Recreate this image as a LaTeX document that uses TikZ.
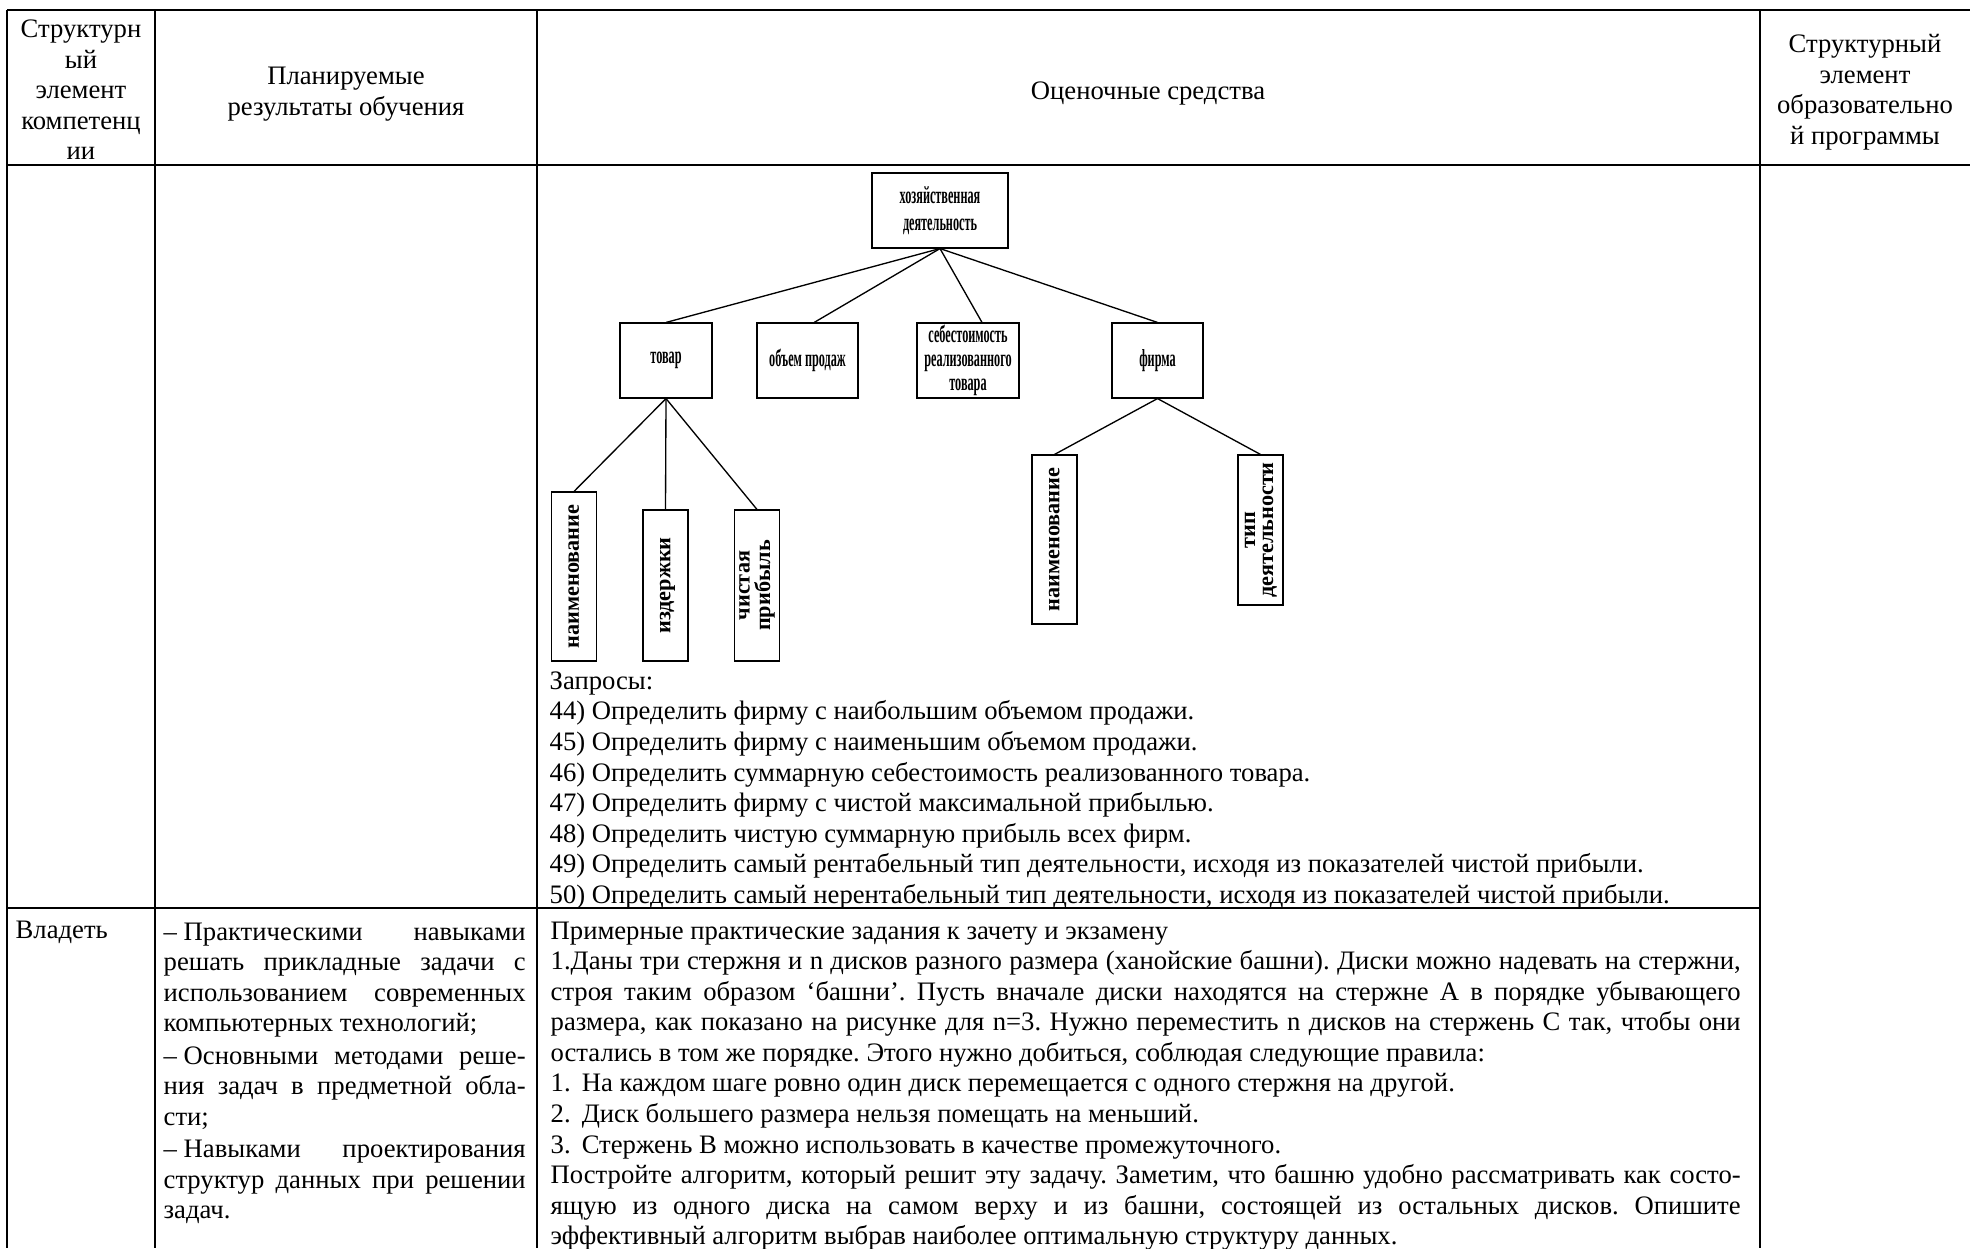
\documentclass[tikz,border=0pt]{standalone}
\usepackage{fontspec}
\setmainfont{Liberation Serif}
\newfontfamily\treefont[FakeStretch=0.5]{Liberation Serif}
\usepackage{graphicx}
\usetikzlibrary{positioning}

\newlength\pxu
\setlength\pxu{0.45pt}
\newcommand\vtext[2]{\rotatebox{90}{\renewcommand\arraystretch{#1}\begin{tabular}{@{}c@{}}#2\end{tabular}}}
\frenchspacing

\begin{document}
\begin{tikzpicture}[x=0.45pt,y=-0.45pt,semithick,
                    font=\fontsize{12}{13.75}\selectfont]
  \tikzstyle{grid}=[line width=1.1pt]
  \tikzstyle{cell}=[inner sep=0pt,align=center]
  \tikzstyle{para}=[inner sep=0pt,anchor=north west,align=justify]
  \tikzstyle{hbox}=[draw,line width=0.5pt,inner sep=0pt,align=center,
                    minimum height=75\pxu,
                    font=\treefont\bfseries\fontsize{11}{10.8}\selectfont]
  \tikzstyle{vbox}=[draw,line width=0.5pt,inner sep=0pt,minimum width=45\pxu,
                    font=\bfseries\fontsize{10}{11}\selectfont]

  \useasboundingbox (0,0) rectangle (1970,1248);

  % table rules
  \draw[grid] (7,10) -- (1970,10);
  \draw[grid] (7,165) -- (1970,165);
  \draw[grid] (7,908) -- (1760,908);
  \foreach \x in {7,155,537,1760}
    \draw[grid] (\x,10) -- (\x,1248);

  % header row
  \node[cell] (hcomp) at (81,90) {Структурн\\ый\\элемент\\компетенц\\ии};
  \node[cell] (hplan) at (346,94) {Планируемые\\результаты обучения};
  \node[cell] (heval) at (1148,94) {Оценочные средства};
  \node[cell] (hprog) at (1865,92) {Структурный\\элемент\\образовательно\\й программы};

  % tree
  \node[hbox,minimum width=136\pxu] (root)   at (940,210.5) {хозяйственная\\[1.5pt]деятельность};
  \node[hbox,minimum width=92\pxu]  (tovar)  at (666,360.5) {товар};
  \node[hbox,minimum width=101\pxu] (obem)   at (807.5,360.5) {объем продаж};
  \node[hbox,minimum width=102\pxu] (sebest) at (968,360.5) {себестоимость\\реализованного\\товара};
  \node[hbox,minimum width=91\pxu]  (firma)  at (1157.5,360.5) {фирма};

  \node[vbox,minimum height=169\pxu] (naimt) at (574,576.5) {\vtext{1}{наименование}};
  \node[vbox,minimum height=151\pxu] (izd)   at (665.5,585.5) {\vtext{1}{издержки}};
  \node[vbox,minimum height=151\pxu] (prib)  at (757,585.5) {\vtext{0.6}{чистая\\прибыль}};
  \node[vbox,minimum height=169\pxu] (naimf) at (1054.5,539.5) {\vtext{1}{наименование}};
  \node[vbox,minimum height=150\pxu] (tip)   at (1260.5,530) {\vtext{0.74}{тип\\деятельности}};

  \path (root.south)  edge (tovar.north)
        (root.south)  edge ([xshift=3pt]obem.north)
        (root.south)  edge ([xshift=6.3pt]sebest.north)
        (root.south)  edge (firma.north)
        (tovar.south) edge (naimt.north)
        (tovar.south) edge (izd.north)
        (tovar.south) edge (prib.north)
        (firma.south) edge (naimf.north)
        (firma.south) edge (tip.north);

  % queries
  \node[para,align=left] (queries) at (549,671) {Запросы:\\
    44) Определить фирму с наибольшим объемом продажи.\\
    45) Определить фирму с наименьшим объемом продажи.\\
    46) Определить суммарную себестоимость реализованного товара.\\
    47) Определить фирму с чистой максимальной прибылью.\\
    48) Определить чистую суммарную прибыль всех фирм.\\
    49) Определить самый рентабельный тип деятельности, исходя из показателей чистой прибыли.\\
    50) Определить самый нерентабельный тип деятельности, исходя из показателей чистой прибыли.};

  % last row
  \node[para] (own) at (15,920) {Владеть};
  \node[para,text width=162.9pt] (skills) at (163,922) {–\hspace{3pt}Практическими
    навыками\linebreak решать прикладные задачи с\linebreak
    использованием современных\linebreak компьютерных технологий;\\[0.8pt]
    –\hspace{3pt}Основными методами реше-\linebreak ния задач в предметной обла-\linebreak
    сти;\\[0.8pt]
    –\hspace{3pt}Навыками проектирования\linebreak структур данных при решении\linebreak
    задач.};
  \node[para,text width=535.5pt] (tasks) at (550,921) {Примерные практические задания к зачету и экзамену\\
    1.Даны три стержня и n дисков разного размера (ханойские башни). Диски можно надевать на стержни,\linebreak
    строя таким образом ‘башни’. Пусть вначале диски находятся на стержне А в порядке убывающего\linebreak
    размера, как показано на рисунке для n=3. Нужно переместить n дисков на стержень С так, чтобы они\linebreak
    остались в том же порядке. Этого нужно добиться, соблюдая следующие правила:\\
    1.\hspace{5pt}На каждом шаге ровно один диск перемещается с одного стержня на другой.\\
    2.\hspace{5pt}Диск большего размера нельзя помещать на меньший.\\
    3.\hspace{5pt}Стержень В можно использовать в качестве промежуточного.\\
    Постройте алгоритм, который решит эту задачу. Заметим, что башню удобно рассматривать как состо-\linebreak
    ящую из одного диска на самом верху и из башни, состоящей из остальных дисков. Опишите\linebreak
    эффективный алгоритм выбрав наиболее оптимальную структуру данных.};
\end{tikzpicture}
\end{document}
